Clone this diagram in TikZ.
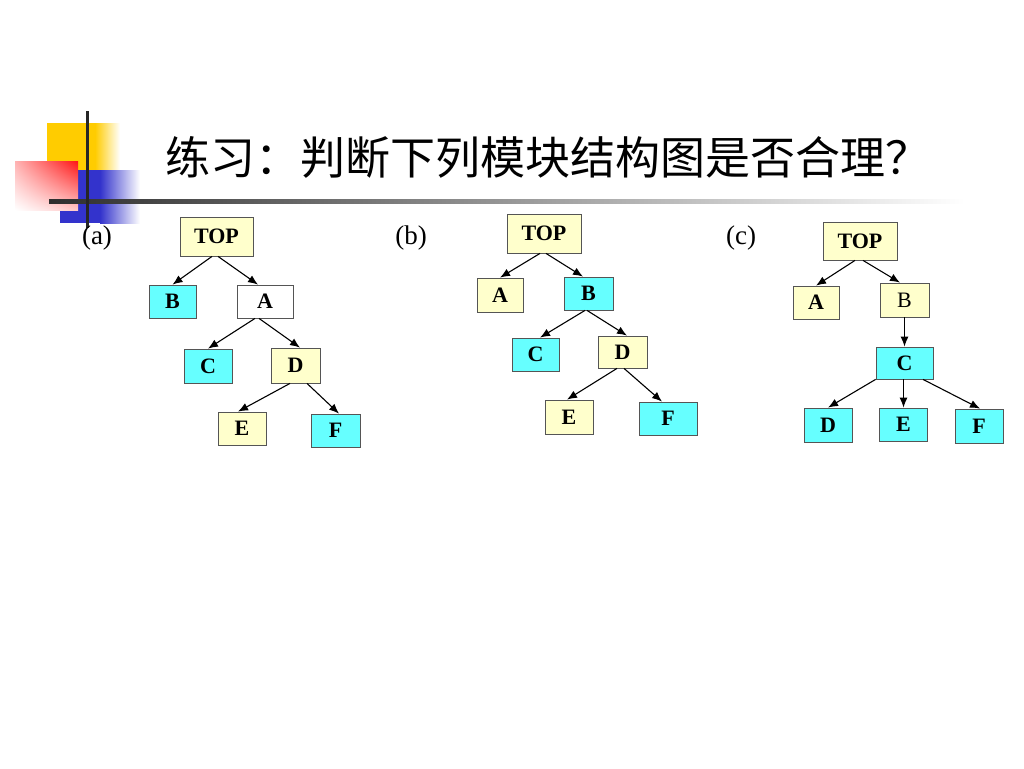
\documentclass[tikz,border=0pt]{standalone}
\usepackage{fontspec}
\setmainfont{Liberation Serif}
\newfontfamily\cjk{Noto Sans CJK SC}
\usetikzlibrary{arrows.meta,shadings}

\definecolor{boxyellow}{RGB}{255,255,204}
\definecolor{boxcyan}{RGB}{102,255,255}
\definecolor{boxline}{RGB}{85,85,85}
\definecolor{decoyellow}{RGB}{255,204,0}
\definecolor{decoblue}{RGB}{51,51,204}
\definecolor{decored}{RGB}{255,20,20}

\tikzset{
  module/.style={draw=boxline, line width=0.8pt, inner sep=0pt,
    font=\fontsize{22}{24}\selectfont\bfseries},
  yelbox/.style={module, fill=boxyellow},
  cyanbox/.style={module, fill=boxcyan},
  whitebox/.style={module, fill=white},
  boxsize/.style 2 args={minimum width=#1pt, minimum height=#2pt},
  call/.style={->, line width=1.1pt, >={Latex[length=10pt,width=8pt]}},
  sublabel/.style={inner sep=0pt, font=\fontsize{27}{30}\selectfont},
}

\begin{document}
\begin{tikzpicture}[x=1pt,y=-1pt]
        \useasboundingbox[fill=white] (0,0) rectangle (1024,768);

        % Corner decoration
        \fill[decoyellow] (47,123) rectangle (95,170);
        \shade[left color=decoyellow, right color=white] (95,123) rectangle (120,170);
        \fill[decoblue] (60,170) rectangle (100,223);
        \shade[left color=decoblue, right color=white] (100,170) rectangle (140,223);
        \shade[upper right=decored, upper left=red!30, lower right=red!22, lower left=white]
            (15,161) rectangle (78,210);
        \shade[left color=black!82, right color=white] (49,199) rectangle (965,203);
        \draw[black!85, line width=3pt] (87,111) -- (87,228);

        % Title
        \node[anchor=base west, inner sep=0pt, font=\cjk\fontsize{45}{50}\selectfont]
            (title) at (165,174) {练习：判断下列模块结构图是否合理？};

        % Tree (a)
        \node[sublabel] (laba) at (97,238) {(a)};
        \node[yelbox, boxsize={73}{39}] (topa) at (216.5,236.5) {TOP};
        \node[cyanbox, boxsize={47}{33}] (ba) at (172.5,301.5) {B};
        \node[whitebox, boxsize={56}{33}] (aa) at (265,301.5) {A\hspace{20pt}};
        \node[cyanbox, boxsize={48}{34}] (ca) at (208,366) {C};
        \node[yelbox, boxsize={49}{35}] (da) at (295.5,365.5) {D};
        \node[yelbox, boxsize={48}{33}] (ea) at (242,428.5) {E};
        \node[cyanbox, boxsize={49}{33}] (fa) at (335.5,430.5) {F};
        \draw[call] ([xshift=-4.5pt]topa.south) -- (ba.north);
        \draw[call] ([xshift=1.5pt]topa.south) -- ([xshift=-7pt]aa.north);
        \draw[call] ([xshift=-10pt]aa.south) -- (ca.north);
        \draw[call] ([xshift=-6pt]aa.south) -- ([xshift=4.5pt]da.north);
        \draw[call] ([xshift=-5.5pt]da.south) -- ([xshift=-4pt]ea.north);
        \draw[call] ([xshift=11.5pt]da.south) -- ([xshift=3.5pt]fa.north);

        % Tree (b)
        \node[sublabel] (labb) at (411,238) {(b)};
        \node[yelbox, boxsize={74}{39}] (topb) at (544,233.5) {TOP};
        \node[yelbox, boxsize={46}{34}] (ab) at (500,295) {A};
        \node[cyanbox, boxsize={49}{33}] (bb) at (588.5,293.5) {B};
        \node[cyanbox, boxsize={47}{33}] (cb) at (535.5,354.5) {C};
        \node[yelbox, boxsize={49}{32}] (db) at (622.5,352) {D};
        \node[yelbox, boxsize={48}{34}] (eb) at (569,417) {E};
        \node[cyanbox, boxsize={58}{33}] (fb) at (668,418.5) {F};
        \draw[call] ([xshift=-4pt]topb.south) -- (ab.north);
        \draw[call] ([xshift=2pt]topb.south) -- ([xshift=-5.5pt]bb.north);
        \draw[call] ([xshift=-3.5pt]bb.south) -- ([xshift=4.5pt]cb.north);
        \draw[call] ([xshift=-1.5pt]bb.south) -- ([xshift=4.5pt]db.north);
        \draw[call] ([xshift=-5.5pt]db.south) -- ([xshift=-2pt]eb.north);
        \draw[call] ([xshift=1.5pt]db.south) -- ([xshift=-6pt]fb.north);

        % Tree (c)
        \node[sublabel] (labc) at (741,238) {(c)};
        \node[yelbox, boxsize={74}{38}] (topc) at (860,241) {TOP};
        \node[yelbox, boxsize={46}{33}] (ac) at (816,302.5) {A};
        \node[yelbox, boxsize={49}{34}, font=\fontsize{22}{24}\selectfont] (bc) at (904.5,300) {B};
        \node[cyanbox, boxsize={57}{32}] (cc) at (904.5,363) {C};
        \node[cyanbox, boxsize={48}{34}] (dc) at (828,425) {D};
        \node[cyanbox, boxsize={48}{33}] (ec) at (903.5,424.5) {E};
        \node[cyanbox, boxsize={48}{34}] (fc) at (979,426) {F};
        \draw[call] ([xshift=-5pt]topc.south) -- (ac.north);
        \draw[call] ([xshift=3pt]topc.south) -- ([xshift=-4.5pt]bc.north);
        \draw[call] (bc.south) -- (cc.north);
        \draw[call] (cc.south west) -- (dc.north);
        \draw[call] ([xshift=-1pt]cc.south) -- (ec.north);
        \draw[call] ([xshift=18.5pt]cc.south) -- ([xshift=1pt]fc.north);
    \end{tikzpicture}
\end{document}
